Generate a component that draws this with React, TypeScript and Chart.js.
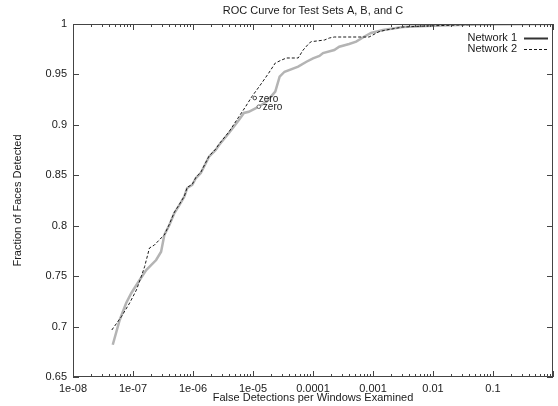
import React, { useEffect, useRef } from "react";
import { Chart, registerables } from "chart.js";

Chart.register(...registerables);

const titleText = "ROC Curve for Test Sets A, B, and C";
const xAxisTitle = "False Detections per Windows Examined";
const yAxisTitle = "Fraction of Faces Detected";
const seriesNames = ["Network 1", "Network 2"];
const zeroLabel = "zero";

const xTickValues = [1e-8, 1e-7, 1e-6, 1e-5, 1e-4, 1e-3, 1e-2, 1e-1, 1];
const xTickLabels = ["1e-08", "1e-07", "1e-06", "1e-05", "0.0001", "0.001", "0.01", "0.1", ""];
const yTickValues = [0.65, 0.7, 0.75, 0.8, 0.85, 0.9, 0.95, 1];
const yTickLabels = ["0.65", "0.7", "0.75", "0.8", "0.85", "0.9", "0.95", "1"];

const net1X = [4.6e-8, 6.0e-8, 7.7e-8, 9.4e-8, 1.29e-7, 1.66e-7, 2.43e-7, 2.94e-7, 3.33e-7, 4.04e-7, 4.89e-7, 5.92e-7, 7.15e-7, 8.0e-7, 9.7e-7, 1.12e-6, 1.35e-6, 1.64e-6, 1.85e-6, 2.39e-6, 2.72e-6, 3.97e-6, 5.82e-6, 7.05e-6, 8.5e-6, 1.25e-5, 1.69e-5, 2.35e-5, 2.78e-5, 3.36e-5, 5.66e-5, 7.78e-5, 1.0e-4, 1.28e-4, 1.47e-4, 2.26e-4, 2.74e-4, 4.0e-4, 5.24e-4, 7.1e-4, 9.27e-4, 1.47e-3, 3.14e-3, 7.5e-3, 0.0507, 1];
const net1Y = [0.682, 0.7065, 0.7234, 0.7333, 0.7462, 0.756, 0.766, 0.7742, 0.7908, 0.8007, 0.8126, 0.8205, 0.8288, 0.8374, 0.8404, 0.8473, 0.8523, 0.8622, 0.8684, 0.8751, 0.88, 0.8919, 0.9048, 0.9118, 0.913, 0.918, 0.923, 0.9329, 0.9478, 0.9527, 0.9577, 0.9626, 0.966, 0.9683, 0.9712, 0.9742, 0.9775, 0.9802, 0.9825, 0.9874, 0.9911, 0.994, 0.997, 0.998, 0.9995, 1.0];

const net2X = [4.43e-8, 6.4e-8, 8.8e-8, 1.14e-7, 1.37e-7, 1.56e-7, 1.88e-7, 2.28e-7, 2.94e-7, 3.33e-7, 4.0e-7, 4.9e-7, 5.9e-7, 7.2e-7, 8.0e-7, 9.7e-7, 1.12e-6, 1.35e-6, 1.64e-6, 1.85e-6, 2.39e-6, 2.72e-6, 3.97e-6, 5.82e-6, 7.52e-6, 9.55e-6, 1.4e-5, 1.83e-5, 2.35e-5, 3.0e-5, 3.63e-5, 5.66e-5, 6.85e-5, 8.7e-5, 9.4e-5, 1.55e-4, 1.87e-4, 2.26e-4, 8.6e-4, 1.26e-3, 1.64e-3, 3.14e-3, 7.5e-3, 0.0507, 1];
const net2Y = [0.6966, 0.7098, 0.7234, 0.7363, 0.7494, 0.7593, 0.7779, 0.7809, 0.7878, 0.7908, 0.801, 0.8135, 0.821, 0.8295, 0.838, 0.841, 0.848, 0.853, 0.863, 0.869, 0.876, 0.881, 0.893, 0.9081, 0.918, 0.9279, 0.9415, 0.9514, 0.9613, 0.9643, 0.9663, 0.9663, 0.9742, 0.9812, 0.9825, 0.9841, 0.9861, 0.9871, 0.9871, 0.9924, 0.994, 0.997, 0.998, 0.9995, 1.0];

const zeroX = [1.25e-5, 1.07e-5];
const zeroY = [0.918, 0.9266];

const FONT = "'Liberation Sans', Arial, Helvetica, sans-serif";
const TEXT = "#1a1a1a";

const framePlugin = {
  id: "frameTicks",
  afterDraw(chart: any) {
    const { ctx, chartArea, scales } = chart;
    const { left, right, top, bottom } = chartArea;
    const x = scales.x;
    const y = scales.y;
    ctx.save();
    ctx.strokeStyle = "#444";
    ctx.lineWidth = 1;
    ctx.strokeRect(left + 0.5, top + 0.5, right - left - 1, bottom - top - 1);
    ctx.beginPath();
    for (const v of xTickValues) {
      const px = Math.round(x.getPixelForValue(v)) + 0.5;
      ctx.moveTo(px, bottom); ctx.lineTo(px, bottom - 6);
      ctx.moveTo(px, top); ctx.lineTo(px, top + 6);
    }
    for (let d = 0; d < xTickValues.length - 1; d++) {
      for (let m = 2; m <= 9; m++) {
        const px = Math.round(x.getPixelForValue(m * xTickValues[d])) + 0.5;
        ctx.moveTo(px, bottom); ctx.lineTo(px, bottom - 3);
        ctx.moveTo(px, top); ctx.lineTo(px, top + 3);
      }
    }
    for (const v of yTickValues) {
      const py = Math.round(y.getPixelForValue(v)) + 0.5;
      ctx.moveTo(left, py); ctx.lineTo(left + 6, py);
      ctx.moveTo(right, py); ctx.lineTo(right - 6, py);
    }
    ctx.stroke();
    ctx.restore();
  },
};

const legendPlugin = {
  id: "gnuLegend",
  afterDraw(chart: any) {
    const { ctx, chartArea } = chart;
    const textRight = chartArea.right - 36;
    const lineStart = chartArea.right - 29;
    const lineEnd = chartArea.right - 5;
    const rows = [chartArea.top + 14, chartArea.top + 25];
    ctx.save();
    ctx.font = `11px ${FONT}`;
    ctx.fillStyle = TEXT;
    ctx.textAlign = "right";
    ctx.textBaseline = "middle";
    seriesNames.forEach((name, i) => {
      ctx.fillText(name, textRight, rows[i]);
      ctx.beginPath();
      ctx.strokeStyle = i === 0 ? "#333" : "#1a1a1a";
      ctx.lineWidth = i === 0 ? 2 : 1;
      ctx.setLineDash(i === 0 ? [] : [3, 2]);
      ctx.moveTo(lineStart, rows[i] + 0.5);
      ctx.lineTo(lineEnd, rows[i] + 0.5);
      ctx.stroke();
    });
    ctx.restore();
  },
};

const zeroPlugin = {
  id: "zeroLabels",
  afterDatasetsDraw(chart: any) {
    const { ctx } = chart;
    ctx.save();
    ctx.font = `10px ${FONT}`;
    ctx.fillStyle = TEXT;
    ctx.textAlign = "left";
    ctx.textBaseline = "middle";
    [2, 3].forEach((di) => {
      const meta = chart.getDatasetMeta(di);
      const el = meta.data[0];
      if (el) ctx.fillText(zeroLabel, el.x + 4, el.y + 1);
    });
    ctx.restore();
  },
};

export default function App() {
  const ref = useRef<HTMLCanvasElement | null>(null);
  useEffect(() => {
    const chart = new Chart(ref.current as HTMLCanvasElement, {
      type: "line",
      data: {
        datasets: [
          {
            label: seriesNames[0],
            data: net1X.map((x, i) => ({ x, y: net1Y[i] })),
            borderColor: "#b4b4b4",
            borderWidth: 2.5,
            pointRadius: 0,
            tension: 0,
            order: 2,
          },
          {
            label: seriesNames[1],
            data: net2X.map((x, i) => ({ x, y: net2Y[i] })),
            borderColor: "#1a1a1a",
            borderWidth: 1,
            borderDash: [3, 2],
            pointRadius: 0,
            tension: 0,
            order: 1,
          },
          {
            type: "scatter",
            label: zeroLabel + " 1",
            data: [{ x: zeroX[0], y: zeroY[0] }],
            pointRadius: 1.8,
            borderColor: "#666",
            backgroundColor: "#fff",
            borderWidth: 1,
            order: 0,
          },
          {
            type: "scatter",
            label: zeroLabel + " 2",
            data: [{ x: zeroX[1], y: zeroY[1] }],
            pointRadius: 1.8,
            borderColor: "#444",
            backgroundColor: "#fff",
            borderWidth: 1,
            order: 0,
          },
        ] as any,
      },
      options: {
        animation: false,
        responsive: true,
        maintainAspectRatio: false,
        layout: { padding: { top: 0, right: 2, bottom: 0, left: 0 } },
        plugins: {
          legend: { display: false },
          tooltip: { enabled: false },
          title: {
            display: true,
            text: titleText,
            fullSize: false,
            color: TEXT,
            font: { family: FONT, size: 11, weight: "normal" },
            padding: { top: 4, bottom: 6.8 },
          },
        },
        scales: {
          x: {
            type: "logarithmic",
            min: 1e-8,
            max: 1,
            grid: { display: false, drawTicks: false },
            border: { display: false },
            afterBuildTicks: (s: any) => {
              s.ticks = xTickValues.map((v) => ({ value: v }));
            },
            afterFit: (s: any) => {
              s.height = 29;
            },
            ticks: {
              autoSkip: false,
              maxRotation: 0,
              padding: 5,
              color: TEXT,
              font: { family: FONT, size: 11 },
              callback: (_v: any, i: number) => xTickLabels[i],
            },
            title: {
              display: true,
              text: xAxisTitle,
              color: TEXT,
              font: { family: FONT, size: 11 },
              padding: { top: 0, bottom: 1.4 },
            },
          },
          y: {
            type: "linear",
            min: 0.65,
            max: 1,
            grid: { display: false, drawTicks: false },
            border: { display: false },
            afterBuildTicks: (s: any) => {
              s.ticks = yTickValues.map((v) => ({ value: v }));
            },
            afterFit: (s: any) => {
              s.width = 73;
            },
            ticks: {
              padding: 6,
              color: TEXT,
              font: { family: FONT, size: 11 },
              callback: (_v: any, i: number) => yTickLabels[i],
            },
            title: {
              display: true,
              text: yAxisTitle,
              color: TEXT,
              font: { family: FONT, size: 11 },
              padding: { top: 11, bottom: 0 },
            },
          },
        },
      } as any,
      plugins: [framePlugin, legendPlugin, zeroPlugin],
    });
    return () => chart.destroy();
  }, []);

  return (
    <div style={{ position: "fixed", left: 0, top: 0, width: 558, height: 406, background: "#fff" }}>
      <canvas ref={ref} />
    </div>
  );
}
